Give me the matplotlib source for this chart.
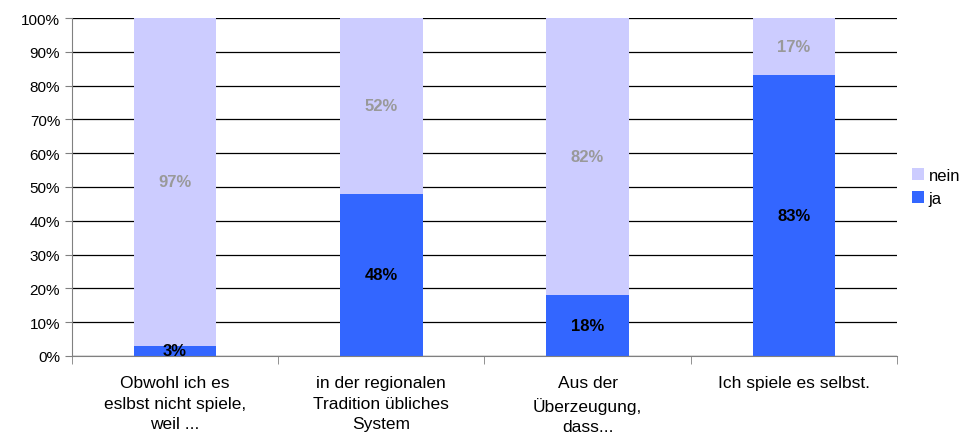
import numpy as np
import matplotlib.pyplot as plt

plt.rcParams['font.family'] = ['Liberation Sans', 'DejaVu Sans']

categories = ["Obwohl ich es\neslbst nicht spiele,\nweil ...",
              "in der regionalen\nTradition übliches\nSystem",
              "Aus der\nÜberzeugung,\ndass...",
              "Ich spiele es selbst."]
ja = [3, 48, 18, 83]
nein = [97, 52, 82, 17]
yticks = [0, 10, 20, 30, 40, 50, 60, 70, 80, 90, 100]

fig = plt.figure(figsize=(9.77, 4.39), dpi=100)
ax = fig.add_axes([0.0737, 0.187, 0.8443, 0.7697])

x = np.arange(len(categories))
w = 0.4
ax.bar(x, ja, w, color='#3366FF', label='ja', zorder=2)
ax.bar(x, nein, w, bottom=ja, color='#CCCCFF', label='nein', zorder=2)

for i in range(len(categories)):
    ax.text(x[i], ja[i] / 2, f"{ja[i]}%", ha='center', va='center',
            fontsize=12, fontweight='bold', color='black', zorder=3)
    ax.text(x[i], ja[i] + nein[i] / 2, f"{nein[i]}%", ha='center', va='center',
            fontsize=12, fontweight='bold', color='#999999', zorder=3)

ax.set_xlim(-0.5, len(categories) - 0.5)
ax.set_ylim(0, 100)
ax.set_yticks(yticks)
ax.set_yticklabels([f"{v}%" for v in yticks], fontsize=11)
ax.yaxis.grid(True, color='black', linewidth=0.9, zorder=0)
ax.tick_params(axis='y', length=5, color='#808080')

ax.set_xticks(x)
ax.set_xticklabels(categories, fontsize=12.5, linespacing=1.45)
ax.tick_params(axis='x', length=0, pad=14)
ax.set_xticks(np.arange(len(categories) + 1) - 0.5, minor=True)
ax.tick_params(axis='x', which='minor', length=6, color='#808080')

for s in ['top', 'right']:
    ax.spines[s].set_visible(False)
ax.spines['left'].set_color('#808080')
ax.spines['bottom'].set_color('#808080')

h, l = ax.get_legend_handles_labels()
ax.legend(h[::-1], l[::-1], loc='center left', bbox_to_anchor=(1.0, 0.5),
          frameon=False, fontsize=12, handlelength=0.7, handleheight=0.7,
          handletextpad=0.3, labelspacing=0.5)

fig.savefig('out.png', dpi=100)
